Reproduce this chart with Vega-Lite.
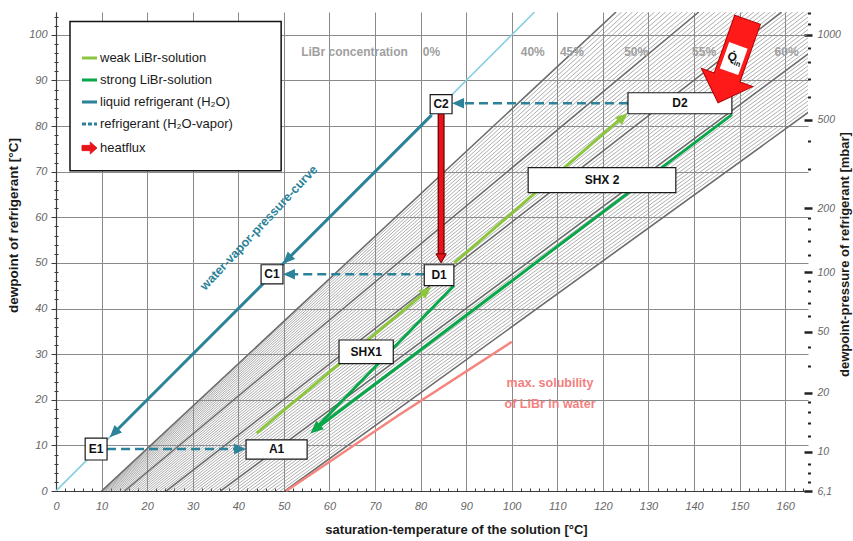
{
"$schema": "https://vega.github.io/schema/vega-lite/v6.json",
"width": 752,
"height": 479,
"autosize": {"type": "none"},
"padding": {"left": 56, "top": 12, "right": 45, "bottom": 50},
"background": "white",
"config": {"view": {"stroke": null}, "font": "Liberation Sans"},
"datasets": {
"hatch": [
{"a":10.09,"b":124.09},{"a":10.24,"b":125.30},{"a":10.45,"b":126.51},{"a":10.69,"b":127.72},{"a":10.97,"b":128.93},{"a":11.27,"b":130.14},{"a":11.60,"b":131.35},{"a":11.96,"b":132.56},{"a":12.34,"b":133.77},{"a":12.74,"b":134.98},
{"a":13.16,"b":136.19},{"a":13.60,"b":137.40},{"a":14.05,"b":138.62},{"a":14.53,"b":139.83},
{"a":15.54,"b":142.25},{"a":16.06,"b":143.46},{"a":16.61,"b":144.67},{"a":17.16,"b":145.88},{"a":17.74,"b":147.09},{"a":18.32,"b":148.30},{"a":18.93,"b":149.51},{"a":19.54,"b":150.72},{"a":20.17,"b":151.93},{"a":20.81,"b":153.14},
{"a":21.47,"b":154.36},{"a":22.14,"b":155.57},{"a":22.82,"b":156.78},{"a":23.51,"b":157.99},
{"a":24.93,"b":160.41},{"a":25.66,"b":161.62},{"a":26.40,"b":162.83},{"a":27.15,"b":164.04},{"a":27.91,"b":165.25},{"a":28.68,"b":166.46},{"a":29.47,"b":167.67},{"a":30.26,"b":168.88},{"a":31.07,"b":170.09},{"a":31.88,"b":171.31},
{"a":32.71,"b":172.52},{"a":33.54,"b":173.73},{"a":34.39,"b":174.94},{"a":35.25,"b":176.15},
{"a":36.99,"b":178.57},{"a":37.87,"b":179.78},{"a":38.76,"b":180.99},{"a":39.67,"b":182.20},{"a":40.58,"b":183.41},{"a":41.50,"b":184.62},{"a":42.43,"b":185.84},{"a":43.37,"b":187.05},{"a":44.32,"b":188.26},{"a":45.28,"b":189.47},
{"a":46.25,"b":190.68},{"a":47.22,"b":191.89},{"a":48.21,"b":193.10},{"a":49.20,"b":194.31}
],
"hatchT": [{"a":10.0,"b":122.88},{"a":15.03,"b":141.04},{"a":24.21,"b":159.20},{"a":36.11,"b":177.36},{"a":50.2,"b":195.52}],
"zero": [{"x":0,"y":0},{"x":105,"y":105}],
"sol": [{"x":50.5,"y":0},{"x":75,"y":16.5},{"x":100,"y":32.7}],
"lgbox": [{"x1":3.07,"x2":49.4,"y1":70.2,"y2":102.9}],
"lines": [
{"s":"liquid refrigerant (H₂O)","g":"r","o":1,"x":82.4,"y":82.4},
{"s":"liquid refrigerant (H₂O)","g":"r","o":2,"x":13.0,"y":13.0},
{"s":"weak LiBr-solution","g":"w1","o":1,"x":44.0,"y":12.7},
{"s":"weak LiBr-solution","g":"w1","o":2,"x":81.5,"y":44.0},
{"s":"weak LiBr-solution","g":"w2","o":1,"x":87.4,"y":50.0},
{"s":"weak LiBr-solution","g":"w2","o":2,"x":124.5,"y":82.1},
{"s":"strong LiBr-solution","g":"s1","o":1,"x":148.3,"y":82.5},
{"s":"strong LiBr-solution","g":"s1","o":2,"x":57.0,"y":13.6},
{"s":"strong LiBr-solution","g":"s2","o":1,"x":87.3,"y":45.0},
{"s":"strong LiBr-solution","g":"s2","o":2,"x":57.0,"y":13.8}
],
"vap": [
{"s":"refrigerant (H₂O-vapor)","g":"v1","o":1,"x":125.5,"y":85.0},
{"s":"refrigerant (H₂O-vapor)","g":"v1","o":2,"x":88.5,"y":85.0},
{"s":"refrigerant (H₂O-vapor)","g":"v2","o":1,"x":80.8,"y":47.5},
{"s":"refrigerant (H₂O-vapor)","g":"v2","o":2,"x":51.0,"y":47.5},
{"s":"refrigerant (H₂O-vapor)","g":"v3","o":1,"x":11.2,"y":9.2},
{"s":"refrigerant (H₂O-vapor)","g":"v3","o":2,"x":40.5,"y":9.2}
],
"heat": [{"s":"heatflux","x":84.5,"y":82.7,"y2":51.3}],
"headsTeal": [{"x":49.8,"y":49.8,"d":225},{"x":11.8,"y":11.8,"d":225},{"x":86.9,"y":85.0,"d":270},{"x":49.8,"y":47.5,"d":270},{"x":41.7,"y":9.2,"d":90}],
"headsGreen": [{"x":55.8,"y":12.6,"d":229}],
"headsLight": [{"x":82.3,"y":44.7,"d":50},{"x":125.4,"y":82.8,"d":49}],
"headsRed": [{"x":84.5,"y":50.0,"d":180}],
"boxes": [
{"n":"C2","x1":82.1,"x2":86.9,"y1":82.7,"y2":86.9,"cx":84.5,"cy":84.8},
{"n":"D2","x1":125.5,"x2":148.3,"y1":82.7,"y2":87.3,"cx":136.9,"cy":85.0},
{"n":"C1","x1":45.0,"x2":49.8,"y1":45.4,"y2":49.6,"cx":47.4,"cy":47.5},
{"n":"D1","x1":80.8,"x2":87.3,"y1":45.0,"y2":49.6,"cx":84.05,"cy":47.3},
{"n":"SHX1","x1":62.1,"x2":74.0,"y1":27.9,"y2":33.1,"cx":68.05,"cy":30.5},
{"n":"SHX 2","x1":103.6,"x2":136.0,"y1":65.4,"y2":70.9,"cx":119.8,"cy":68.15},
{"n":"E1","x1":6.4,"x2":11.2,"y1":6.8,"y2":11.6,"cx":8.8,"cy":9.2},
{"n":"A1","x1":41.7,"x2":55.1,"y1":7.0,"y2":11.2,"cx":48.4,"cy":9.1}
],
"conc": [{"t":"LiBr concentration","x":65.5,"y":96.3},{"t":"0%","x":82.4,"y":96.3},{"t":"40%","x":104.6,"y":96.3},{"t":"45%","x":113.2,"y":96.3},{"t":"50%","x":127.3,"y":96.3},{"t":"55%","x":142.2,"y":96.3},{"t":"60%","x":160.3,"y":96.3}],
"soltext": [{"t":"max. solubility","x":108.4,"y":23.7},{"t":"of LiBr in water","x":108.4,"y":19.1}],
"wvp": [{"t":"water-vapor-pressure-curve","x":44.5,"y":57.7}],
"q": [{"x":148.5,"y":94.2}],
"qbox": [{"x":148.7,"y":94.8}]
},
"resolve": {"axis": {"x": "independent", "y": "independent"}},
"layer": [
{"data":{"name":"hatch"},"mark":{"type":"rule","color":"#929292","strokeWidth":0.75,"clip":true},
"encoding":{
"x":{"field":"a","type":"quantitative","scale":{"domain":[0,165],"nice":false,"zero":false},
"axis":{"orient":"bottom","values":[0,10,20,30,40,50,60,70,80,90,100,110,120,130,140,150,160],"grid":true,"gridColor":"#8a8a8a","gridOpacity":1,"gridWidth":1,"domain":true,"domainColor":"#3a3a3a","domainWidth":1.2,"ticks":false,"tickSize":0,"labelFont":"Liberation Sans","labelFontStyle":"italic","labelFontSize":11,"labelColor":"#666666","labelPadding":9,"labelFlush":false,"labelOverlap":false,"title":"saturation-temperature of the solution [°C]","titleFont":"Liberation Sans","titleFontSize":13,"titleFontWeight":"bold","titleColor":"#1a1a1a","titlePadding":12,"titleX":400}},
"x2":{"field":"b"},
"y":{"datum":0,"type":"quantitative","scale":{"domain":[0,105],"nice":false,"zero":false},
"axis":{"orient":"left","values":[0,10,20,30,40,50,60,70,80,90,100],"grid":true,"gridColor":"#8a8a8a","gridOpacity":1,"gridWidth":1,"domain":true,"domainColor":"#3a3a3a","domainWidth":1.2,"ticks":true,"tickSize":5,"tickColor":"#3a3a3a","tickWidth":1,"labelFont":"Liberation Sans","labelFontStyle":"italic","labelFontSize":11,"labelColor":"#666666","labelPadding":4,"labelOverlap":false,"labelFlush":false,"title":"dewpoint of refrigerant [°C]","titleFont":"Liberation Sans","titleFontSize":13.5,"titleFontWeight":"bold","titleColor":"#1a1a1a","titlePadding":8,"titleY":213}},
"y2":{"datum":105}}},
{"data":{"name":"hatchT"},"mark":{"type":"rule","color":"#6a6a6a","strokeWidth":1.6,"clip":true},
"encoding":{
"x":{"field":"a","type":"quantitative","axis":{"orient":"bottom","values":[2,4,6,8,12,14,16,18,22,24,26,28,32,34,36,38,42,44,46,48,52,54,56,58,62,64,66,68,72,74,76,78,82,84,86,88,92,94,96,98,102,104,106,108,112,114,116,118,122,124,126,128,132,134,136,138,142,144,146,148,152,154,156,158,162,164],"grid":false,"domain":false,"labels":false,"ticks":true,"tickSize":-3,"tickColor":"#3a3a3a","tickWidth":1,"title":null}},
"x2":{"field":"b"},
"y":{"datum":0,"type":"quantitative","axis":{"orient":"left","values":[2,4,6,8,12,14,16,18,22,24,26,28,32,34,36,38,42,44,46,48,52,54,56,58,62,64,66,68,72,74,76,78,82,84,86,88,92,94,96,98,102,104],"grid":false,"domain":false,"labels":false,"ticks":true,"tickSize":4,"offset":-2,"tickColor":"#3a3a3a","tickWidth":1,"title":null}},
"y2":{"datum":105}}},
{"data":{"name":"zero"},"mark":{"type":"line","color":"#86cde2","strokeWidth":1.6,"clip":true},
"encoding":{"x":{"field":"x","type":"quantitative","axis":null},
"y":{"field":"y","type":"quantitative","axis":{"orient":"right","values":[0,8.6,21.5,34.9,48,62,81.4,100],"labelExpr":"datum.value == 0 ? '6,1' : datum.value == 8.6 ? '10' : datum.value == 21.5 ? '20' : datum.value == 34.9 ? '50' : datum.value == 48 ? '100' : datum.value == 62 ? '200' : datum.value == 81.4 ? '500' : '1000'","grid":false,"domain":false,"ticks":true,"tickSize":8,"tickWidth":2.5,"tickColor":"#222222","offset":-4,"labelFont":"Liberation Sans","labelFontStyle":"italic","labelFontSize":10.5,"labelColor":"#666666","labelPadding":5,"labelOverlap":false,"labelFlush":false,"title":"dewpoint-pressure of refrigerant [mbar]","titleAngle":270,"titleFont":"Liberation Sans","titleFontSize":13,"titleFontWeight":"bold","titleColor":"#1a1a1a","titlePadding":11,"titleY":242}}}},
{"data":{"name":"sol"},"mark":{"type":"line","color":"#f4857f","strokeWidth":2.5},
"encoding":{"x":{"field":"x","type":"quantitative","axis":null},
"y":{"field":"y","type":"quantitative","axis":{"orient":"right","values":[2,4,6,12,14.9,17.3,19.5,27.4,31.6,38.3,41.2,43.8,46,51.7,54.8,57.5,59.9,70.6,76.7,86.3,90.4,94,97.1,102.3,104.8],"grid":false,"domain":false,"labels":false,"ticks":true,"tickSize":3,"tickWidth":2,"tickColor":"#222222","offset":-0.5,"title":null}}}},
{"data":{"name":"lgbox"},"mark":{"type":"rect","fill":"white","stroke":"#111111","strokeWidth":1.5},
"encoding":{"x":{"field":"x1","type":"quantitative","axis":null},"x2":{"field":"x2"},"y":{"field":"y1","type":"quantitative","axis":null},"y2":{"field":"y2"}}},
{"data":{"name":"lines"},"mark":{"type":"line","strokeWidth":3,"strokeCap":"butt"},
"encoding":{"x":{"field":"x","type":"quantitative","axis":null},"y":{"field":"y","type":"quantitative","axis":null},"detail":{"field":"g"},"order":{"field":"o"},
"color":{"field":"s","type":"nominal","scale":{"domain":["weak LiBr-solution","strong LiBr-solution","liquid refrigerant (H₂O)","refrigerant (H₂O-vapor)","heatflux"],"range":["#8cc63f","#0aa64a","#2b8299","#2b8299","#e8141b"]},
"legend":{"orient":"none","legendX":27,"legendY":39.5,"title":null,"symbolType":"stroke","symbolSize":225,"symbolStrokeWidth":3,"labelFont":"Liberation Sans","labelFontSize":13,"labelColor":"#1a1a1a","labelOffset":4,"rowPadding":8,"padding":0,"labelLimit":300,
"encode":{"symbols":{"update":{
"shape":{"signal":"datum.value == 'heatflux' ? 'M-1,-0.35L0.1,-0.35L0.1,-0.8L1,0L0.1,0.8L0.1,0.35L-1,0.35Z' : 'stroke'"},
"fill":{"signal":"datum.value == 'heatflux' ? '#e8141b' : 'transparent'"},
"stroke":{"signal":"datum.value == 'heatflux' ? '#6e0000' : scale('color', datum.value)"},
"strokeWidth":{"signal":"datum.value == 'heatflux' ? 1 : 3"},
"strokeDash":{"signal":"datum.value == 'refrigerant (H₂O-vapor)' ? [4,2] : [1,0]"}}}}}}}},
{"data":{"name":"vap"},"mark":{"type":"line","strokeWidth":2.5,"strokeDash":[9,5]},
"encoding":{"x":{"field":"x","type":"quantitative","axis":null},"y":{"field":"y","type":"quantitative","axis":null},"detail":{"field":"g"},"order":{"field":"o"},"color":{"field":"s","type":"nominal"}}},
{"data":{"name":"heat"},"mark":{"type":"rule","color":"#6e0000","strokeWidth":7},
"encoding":{"x":{"field":"x","type":"quantitative","axis":null},"y":{"field":"y","type":"quantitative","axis":null},"y2":{"field":"y2"}}},
{"data":{"name":"heat"},"mark":{"type":"rule","strokeWidth":4.5},
"encoding":{"x":{"field":"x","type":"quantitative","axis":null},"y":{"field":"y","type":"quantitative","axis":null},"y2":{"field":"y2"},"color":{"field":"s","type":"nominal"}}},
{"data":{"name":"headsTeal"},"mark":{"type":"point","shape":"M0,0L-0.7,1.6L0.7,1.6Z","filled":true,"color":"#2b8299","opacity":1,"size":225,"strokeWidth":0},
"encoding":{"x":{"field":"x","type":"quantitative","axis":null},"y":{"field":"y","type":"quantitative","axis":null},"angle":{"field":"d","type":"quantitative","scale":null}}},
{"data":{"name":"headsGreen"},"mark":{"type":"point","shape":"M0,0L-0.7,1.6L0.7,1.6Z","filled":true,"color":"#0aa64a","opacity":1,"size":260,"strokeWidth":0},
"encoding":{"x":{"field":"x","type":"quantitative","axis":null},"y":{"field":"y","type":"quantitative","axis":null},"angle":{"field":"d","type":"quantitative","scale":null}}},
{"data":{"name":"headsLight"},"mark":{"type":"point","shape":"M0,0L-0.7,1.6L0.7,1.6Z","filled":true,"color":"#8cc63f","opacity":1,"size":225,"strokeWidth":0},
"encoding":{"x":{"field":"x","type":"quantitative","axis":null},"y":{"field":"y","type":"quantitative","axis":null},"angle":{"field":"d","type":"quantitative","scale":null}}},
{"data":{"name":"headsRed"},"mark":{"type":"point","shape":"M0,0L-0.9,1.6L0.9,1.6Z","filled":true,"fill":"#e8141b","stroke":"#6e0000","strokeWidth":1,"opacity":1,"size":130},
"encoding":{"x":{"field":"x","type":"quantitative","axis":null},"y":{"field":"y","type":"quantitative","axis":null},"angle":{"field":"d","type":"quantitative","scale":null}}},
{"data":{"name":"boxes"},"mark":{"type":"rect","fill":"white","stroke":"#1a1a1a","strokeWidth":1.2},
"encoding":{"x":{"field":"x1","type":"quantitative","axis":null},"x2":{"field":"x2"},"y":{"field":"y1","type":"quantitative","axis":null},"y2":{"field":"y2"}}},
{"data":{"name":"boxes"},"mark":{"type":"text","font":"Liberation Sans","fontWeight":"bold","fontSize":12,"color":"#111111","align":"center","baseline":"middle"},
"encoding":{"x":{"field":"cx","type":"quantitative","axis":null},"y":{"field":"cy","type":"quantitative","axis":null},"text":{"field":"n"}}},
{"data":{"name":"conc"},"mark":{"type":"text","font":"Liberation Sans","fontWeight":"bold","fontSize":12,"color":"#a0a0a0","align":"center","baseline":"middle"},
"encoding":{"x":{"field":"x","type":"quantitative","axis":null},"y":{"field":"y","type":"quantitative","axis":null},"text":{"field":"t"}}},
{"data":{"name":"soltext"},"mark":{"type":"text","font":"Liberation Sans","fontWeight":"bold","fontSize":12.5,"color":"#f47f7f","align":"center","baseline":"middle"},
"encoding":{"x":{"field":"x","type":"quantitative","axis":null},"y":{"field":"y","type":"quantitative","axis":null},"text":{"field":"t"}}},
{"data":{"name":"wvp"},"mark":{"type":"text","font":"Liberation Sans","fontWeight":"bold","fontSize":12.5,"color":"#2b8299","align":"center","baseline":"middle","angle":-47},
"encoding":{"x":{"field":"x","type":"quantitative","axis":null},"y":{"field":"y","type":"quantitative","axis":null},"text":{"field":"t"}}},
{"data":{"name":"q"},"mark":{"type":"point","shape":"M-0.31,-1L0.31,-1L0.31,0.39L0.62,0.39L0,1L-0.62,0.39L-0.31,0.39Z","filled":true,"fill":"#ff1a1a","stroke":"#b00000","strokeWidth":1,"opacity":1,"size":7744,"angle":19.6},
"encoding":{"x":{"field":"x","type":"quantitative","axis":null},"y":{"field":"y","type":"quantitative","axis":null}}},
{"data":{"name":"qbox"},"mark":{"type":"point","shape":"M-0.7,-1L0.7,-1L0.7,1L-0.7,1Z","filled":true,"fill":"white","strokeWidth":0,"opacity":1,"size":784,"angle":19.6},
"encoding":{"x":{"field":"x","type":"quantitative","axis":null},"y":{"field":"y","type":"quantitative","axis":null}}},
{"data":{"name":"qbox"},"mark":{"type":"text","text":"Q̇","font":"Liberation Sans","fontWeight":"bold","fontSize":12,"color":"#111111","align":"center","baseline":"middle","angle":19.6,"dx":-2,"dy":-1},
"encoding":{"x":{"field":"x","type":"quantitative","axis":null},"y":{"field":"y","type":"quantitative","axis":null}}},
{"data":{"name":"qbox"},"mark":{"type":"text","text":"in","font":"Liberation Sans","fontWeight":"bold","fontSize":7.5,"color":"#111111","align":"center","baseline":"middle","angle":19.6,"dx":5,"dy":4},
"encoding":{"x":{"field":"x","type":"quantitative","axis":null},"y":{"field":"y","type":"quantitative","axis":null}}}
]
}
